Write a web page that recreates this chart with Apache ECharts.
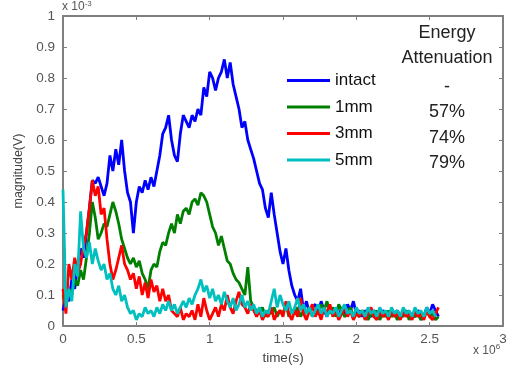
<!DOCTYPE html>
<html>
<head>
<meta charset="utf-8">
<script src="https://cdn.jsdelivr.net/npm/echarts@6/dist/echarts.min.js"></script>
<style>
  html, body { margin: 0; padding: 0; background: #fff; }
  #chart { width: 518px; height: 373px; }
</style>
</head>
<body>
<div id="chart"></div>
<script>
// time samples are every 0.02 (x 10^6 s), magnitudes in units of 10^-3 V
const dt = 0.02;
const names = ['intact', '1mm', '3mm', '5mm'];
const colors = ['#0000ff', '#008000', '#ff0000', '#00bfbf'];
const attenuation = ['-', '57%', '74%', '79%'];

const intact = [
  0.05, 0.10, 0.08, 0.15, 0.12, 0.20, 0.25, 0.22, 0.30, 0.38,
  0.47, 0.46, 0.48, 0.45, 0.42, 0.46, 0.55, 0.50, 0.57, 0.52,
  0.60, 0.50, 0.43, 0.40, 0.30, 0.40, 0.45, 0.43, 0.47, 0.44,
  0.48, 0.45, 0.50, 0.55, 0.62, 0.64, 0.68, 0.60, 0.55, 0.53,
  0.62, 0.68, 0.66, 0.64, 0.68, 0.66, 0.70, 0.68, 0.77, 0.74,
  0.82, 0.80, 0.76, 0.80, 0.82, 0.86, 0.80, 0.85, 0.78, 0.74,
  0.70, 0.64, 0.66, 0.60, 0.57, 0.54, 0.50, 0.46, 0.44, 0.38,
  0.35, 0.43, 0.36, 0.30, 0.24, 0.20, 0.25, 0.18, 0.13, 0.10,
  0.08, 0.12, 0.05, 0.08, 0.04, 0.06, 0.07, 0.04, 0.08, 0.05,
  0.03, 0.06, 0.04, 0.05, 0.03, 0.06, 0.04, 0.07, 0.05, 0.08,
  0.04, 0.05, 0.03, 0.05, 0.04, 0.03, 0.05, 0.04, 0.03, 0.05,
  0.04, 0.03, 0.05, 0.04, 0.05, 0.03, 0.04, 0.05, 0.03, 0.04,
  0.03, 0.05, 0.04, 0.03, 0.06, 0.04, 0.07, 0.05, 0.03
];
const mm1 = [
  0.10, 0.06, 0.12, 0.10, 0.15, 0.13, 0.18, 0.15, 0.22, 0.30,
  0.40, 0.35, 0.28, 0.30, 0.33, 0.32, 0.36, 0.40, 0.37, 0.33,
  0.28, 0.25, 0.22, 0.20, 0.22, 0.19, 0.21, 0.17, 0.15, 0.12,
  0.18, 0.20, 0.19, 0.24, 0.27, 0.26, 0.30, 0.33, 0.30, 0.36,
  0.33, 0.37, 0.38, 0.36, 0.40, 0.41, 0.39, 0.43, 0.42, 0.40,
  0.36, 0.32, 0.30, 0.26, 0.29, 0.25, 0.21, 0.20, 0.17, 0.15,
  0.14, 0.12, 0.10, 0.19, 0.08, 0.06, 0.05, 0.04, 0.06, 0.03,
  0.05, 0.04, 0.06, 0.03, 0.05, 0.04, 0.07, 0.03, 0.05, 0.04,
  0.06, 0.03, 0.05, 0.04, 0.06, 0.03, 0.05, 0.04, 0.07, 0.05,
  0.08, 0.04, 0.06, 0.03, 0.07, 0.05, 0.03, 0.04, 0.06, 0.03,
  0.04, 0.03, 0.05, 0.04, 0.02, 0.04, 0.03, 0.05, 0.02, 0.04,
  0.03, 0.05, 0.03, 0.04, 0.02, 0.04, 0.03, 0.05, 0.02, 0.04,
  0.03, 0.04, 0.02, 0.03, 0.05, 0.03, 0.04, 0.02, 0.03
];
const mm3 = [
  0.12, 0.04, 0.20, 0.15, 0.22, 0.17, 0.20, 0.26, 0.30, 0.38,
  0.47, 0.42, 0.45, 0.36, 0.38, 0.28, 0.20, 0.15, 0.18, 0.22,
  0.26, 0.20, 0.18, 0.15, 0.17, 0.12, 0.16, 0.10, 0.14, 0.09,
  0.15, 0.11, 0.13, 0.08, 0.12, 0.08, 0.10, 0.05, 0.04, 0.03,
  0.06, 0.02, 0.04, 0.03, 0.05, 0.02, 0.07, 0.03, 0.09, 0.05,
  0.02, 0.04, 0.06, 0.03, 0.07, 0.05, 0.10, 0.06, 0.04, 0.08,
  0.11, 0.07, 0.06, 0.04, 0.07, 0.05, 0.03, 0.05, 0.02, 0.04,
  0.03, 0.06, 0.02, 0.04, 0.05, 0.03, 0.08, 0.04, 0.02, 0.05,
  0.03, 0.09, 0.04, 0.02, 0.05, 0.07, 0.03, 0.05, 0.02, 0.06,
  0.04, 0.07, 0.03, 0.05, 0.02, 0.04, 0.06, 0.03, 0.05, 0.02,
  0.04, 0.03, 0.05, 0.02, 0.04, 0.06, 0.03, 0.02, 0.05, 0.03,
  0.04, 0.02, 0.05, 0.03, 0.04, 0.02, 0.05, 0.03, 0.04, 0.02,
  0.05, 0.03, 0.04, 0.02, 0.05, 0.03, 0.02, 0.04, 0.06
];
const mm5 = [
  0.44, 0.06, 0.12, 0.08, 0.20, 0.16, 0.37, 0.25, 0.22, 0.27,
  0.20, 0.25, 0.21, 0.18, 0.20, 0.15, 0.17, 0.12, 0.10, 0.13,
  0.08, 0.10, 0.06, 0.04, 0.05, 0.02, 0.04, 0.03, 0.06, 0.04,
  0.05, 0.03, 0.06, 0.04, 0.07, 0.05, 0.08, 0.05, 0.07, 0.04,
  0.06, 0.08, 0.06, 0.09, 0.07, 0.10, 0.12, 0.15, 0.11, 0.13,
  0.09, 0.12, 0.08, 0.10, 0.07, 0.11, 0.08, 0.06, 0.09, 0.05,
  0.07, 0.10, 0.06, 0.08, 0.05, 0.07, 0.04, 0.06, 0.03, 0.05,
  0.04, 0.08, 0.12, 0.06, 0.10, 0.07, 0.05, 0.08, 0.04, 0.06,
  0.09, 0.05, 0.07, 0.04, 0.06, 0.03, 0.05, 0.07, 0.04, 0.06,
  0.03, 0.05, 0.04, 0.06, 0.03, 0.05, 0.07, 0.04, 0.05, 0.03,
  0.06, 0.04, 0.05, 0.03, 0.06, 0.04, 0.05, 0.03, 0.06, 0.04,
  0.05, 0.03, 0.06, 0.04, 0.05, 0.03, 0.06, 0.04, 0.05, 0.03,
  0.06, 0.04, 0.05, 0.03, 0.06, 0.04, 0.05, 0.03
];

const toPoints = (vals) => vals.map((v, i) => [+(i * dt).toFixed(2), v]);
const allSeries = [intact, mm1, mm3, mm5];

const FONT = 'Liberation Sans, Arial, sans-serif';
const axisGray = '#7f7f7f';
const tickStyle = { show: true, inside: true, length: 4, lineStyle: { color: axisGray, width: 1 } };
const lineStyle = { show: true, onZero: false, lineStyle: { color: axisGray, width: 2 } };
const labelStyle = { color: '#555', fontSize: 13.5, fontFamily: FONT };

const chart = echarts.init(document.getElementById('chart'));
chart.setOption({
  animation: false,
  backgroundColor: '#fff',
  grid: { left: 63, right: 15, top: 16, bottom: 47 },
  legend: {
    data: names,
    orient: 'vertical',
    left: 282,
    top: 67,
    icon: 'rect',
    itemWidth: 43,
    itemHeight: 3,
    itemGap: 9.5,
    textStyle: { fontSize: 17, color: '#111', fontFamily: FONT }
  },
  xAxis: [{
    type: 'value', min: 0, max: 3, interval: 0.5,
    name: 'time(s)', nameLocation: 'middle', nameGap: 24,
    nameTextStyle: { color: '#444', fontSize: 13.5, fontFamily: FONT },
    axisLine: lineStyle, axisTick: tickStyle,
    axisLabel: Object.assign({ margin: 6 }, labelStyle),
    splitLine: { show: false }
  }, {
    type: 'value', min: 0, max: 3, interval: 0.5, position: 'top',
    axisLine: lineStyle, axisTick: tickStyle, axisLabel: { show: false }, splitLine: { show: false }
  }],
  yAxis: [{
    type: 'value', min: 0, max: 1, interval: 0.1,
    name: 'magnitude(V)', nameLocation: 'middle', nameGap: 32, nameRotate: 90,
    nameTextStyle: { color: '#444', fontSize: 12.5, fontFamily: FONT },
    axisLine: lineStyle, axisTick: tickStyle,
    axisLabel: Object.assign({ margin: 8 }, labelStyle),
    splitLine: { show: false }
  }, {
    type: 'value', min: 0, max: 1, interval: 0.1, position: 'right',
    axisLine: lineStyle, axisTick: tickStyle, axisLabel: { show: false }, splitLine: { show: false }
  }],
  series: allSeries.map((vals, k) => ({
    name: names[k],
    type: 'line',
    symbol: 'none',
    color: colors[k],
    lineStyle: { width: 2.8, color: colors[k] },
    data: toPoints(vals)
  })),
  graphic: [
    {
      type: 'text', left: 62, top: 0,
      style: {
        text: 'x 10{s|-3}', fill: '#555', font: '12px ' + FONT,
        rich: { s: { fontSize: 8, verticalAlign: 'top', padding: [0, 0, 6, 0] } }
      }
    },
    {
      type: 'text', left: 473, top: 343,
      style: {
        text: 'x 10{s|6}', fill: '#555', font: '12px ' + FONT,
        rich: { s: { fontSize: 8, padding: [0, 0, 8, 0] } }
      }
    },
    { type: 'text', x: 447, y: 33, style: { text: 'Energy', fill: '#222', font: '18px ' + FONT, align: 'center', verticalAlign: 'middle' } },
    { type: 'text', x: 447, y: 58, style: { text: 'Attenuation', fill: '#222', font: '18px ' + FONT, align: 'center', verticalAlign: 'middle' } }
  ].concat(attenuation.map((txt, k) => ({
    type: 'text', x: 447, y: 87 + k * 25.5,
    style: { text: txt, fill: '#222', font: '18px ' + FONT, align: 'center', verticalAlign: 'middle' }
  })))
});
</script>
</body>
</html>
